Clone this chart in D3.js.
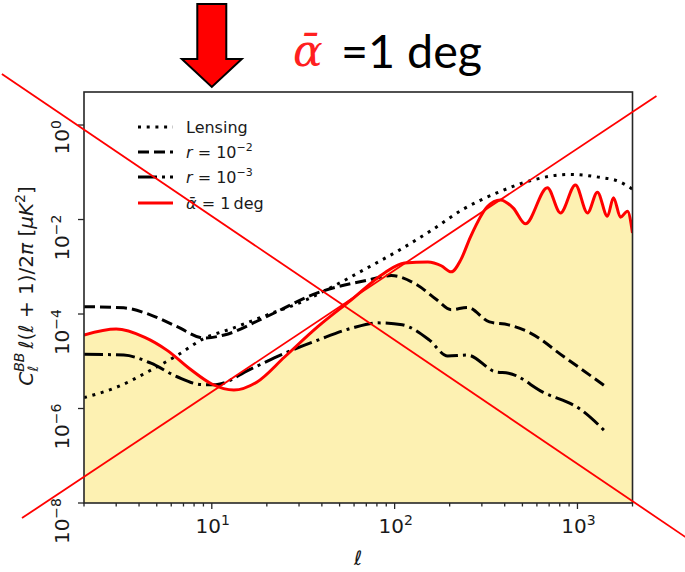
<!DOCTYPE html>
<html>
<head>
<meta charset="utf-8">
<script src="https://cdn.jsdelivr.net/npm/d3@7"></script>
<style>
  body { margin: 0; background: #fff; }
  svg { display: block; }
</style>
</head>
<body>
<svg id="chart" width="685" height="572"></svg>
<script>
// B-mode band powers  C_l^BB l(l+1)/2pi  in muK^2, sampled along multipole l

// gravitational lensing B modes
const lensingEll = [2, 3, 4.65, 6.5, 9, 13, 20, 31, 47, 71, 105, 160, 240, 365, 550, 900, 1300, 1700, 2000];
const lensingBB  = [1.7e-6, 2.8e-6, 6.5e-6, 1.35e-5, 3.0e-5, 5.0e-5, 9.5e-5, 1.8e-4, 4.0e-4, 9.5e-4,
                    2.2e-3, 6.0e-3, 1.7e-2, 3.7e-2, 6.6e-2, 9.0e-2, 7.9e-2, 6.3e-2, 4.4e-2];

// primordial tensor B modes, r = 1e-2
const r2Ell = [2, 3.3, 4.65, 6.46, 9.1, 11.7, 19.3, 37.8, 71, 96, 133, 170, 204, 250, 330, 420, 550, 840, 1450];
const r2BB  = [1.43e-4, 1.35e-4, 9.5e-5, 5.4e-5, 3.1e-5, 3.6e-5, 8.3e-5, 2.8e-4, 5.2e-4, 6.5e-4,
               4.1e-4, 2.0e-4, 1.23e-4, 1.38e-4, 6.8e-5, 5.9e-5, 4.0e-5, 1.26e-5, 2.8e-6];

// primordial tensor B modes, r = 1e-3
const r3Ell = [2, 3.3, 4.65, 6.46, 8.9, 10.5, 16, 25, 38, 58, 81, 110, 155, 195, 250, 360, 420, 650, 1050, 1450];
const r3BB  = [1.41e-5, 1.35e-5, 9.1e-6, 4.7e-6, 3.2e-6, 3.2e-6, 6.6e-6, 1.48e-5, 2.8e-5, 5.0e-5,
               6.5e-5, 5.9e-5, 2.8e-5, 1.29e-5, 1.35e-5, 5.9e-6, 5.6e-6, 2.2e-6, 9.3e-7, 3.0e-7];

// B modes from cosmic birefringence, mean rotation angle 1 deg
const rotEll = [2, 3, 4.3, 5.7, 7.7, 10, 13.2, 17.6, 25, 38, 58, 88, 113, 152, 180, 204, 230, 260, 321, 379,
                446, 519, 685, 807, 975, 1135, 1286, 1458, 1574, 1720, 1878, 2000];
const rotBB  = [3.6e-5, 4.8e-5, 3.2e-5, 1.7e-5, 6.6e-6, 3.3e-6, 2.45e-6, 3.6e-6, 1.23e-5, 5.4e-5, 2.0e-4,
                7.4e-4, 1.2e-3, 1.26e-3, 1.05e-3, 7.8e-4, 1.4e-3, 4.3e-3, 1.86e-2, 2.6e-2,
                1.74e-2, 8.1e-3, 4.7e-2, 1.38e-2, 5.4e-2, 1.38e-2, 3.8e-2, 1.17e-2, 2.9e-2, 1.12e-2, 1.5e-2, 5.2e-3];

// axis ticks
const xMajorTicks = [10, 100, 1000];
const xMajorExp   = ["1", "2", "3"];
const yMajorTicks = [1, 1e-2, 1e-4, 1e-6, 1e-8];
const yMajorExp   = ["0", "\u22122", "\u22124", "\u22126", "\u22128"];

// legend entries (text fragments: italic / superscript flags)
const legendKeys   = ["lensing", "r2", "r3", "rot"];
const legendLabels = [
  [{ t: "Lensing" }],
  [{ t: "r", it: true }, { t: " = 10" }, { t: "\u22122", sup: true }],
  [{ t: "r", it: true }, { t: " = 10" }, { t: "\u22123", sup: true }],
  [{ t: "\u1FB1", it: true }, { t: " = 1\u2009deg" }]
];

// the two struck-through guide lines, end points in (l, D_l)
const strikeLines = [
  [[0.711, 12.05], [3900, 1.9e-9]],
  [[0.916, 4.8e-9], [2705, 4.12]]
];
const arrowTargetEll = 10;

const svg = d3.select("#chart");
const plot = { left: 84, right: 632.5, top: 92, bottom: 503 };
const x = d3.scaleLog().domain([2, 2000]).range([plot.left, plot.right]);
const y = d3.scaleLog().domain([1e-8, 5]).range([plot.bottom, plot.top]);

const FONT = "'DejaVu Sans', sans-serif";
const INK = "#1a1a1a";

svg.append("rect").attr("width", 685).attr("height", 572).attr("fill", "#fff");

svg.append("defs").append("clipPath").attr("id", "plotClip")
  .append("rect")
  .attr("x", plot.left).attr("y", plot.top)
  .attr("width", plot.right - plot.left).attr("height", plot.bottom - plot.top);

const pts = (ells, vals) => ells.map((l, i) => ({ l, v: vals[i] }));
const line = d3.line().x(d => x(d.l)).y(d => y(d.v)).curve(d3.curveMonotoneX);
const area = d3.area().x(d => x(d.l)).y0(plot.bottom).y1(d => y(d.v)).curve(d3.curveMonotoneX);

const body = svg.append("g").attr("clip-path", "url(#plotClip)");

// shaded region below the birefringence spectrum
body.append("path").datum(pts(rotEll, rotBB))
  .attr("d", area).attr("fill", "#fdf1b2");

const styles = {
  lensing: { color: "#000", dash: "3 5.7", width: 3 },
  r2:      { color: "#000", dash: "11 5", width: 3 },
  r3:      { color: "#000", dash: "19 5 3 5", width: 3 },
  rot:     { color: "#ff0000", dash: null, width: 3 }
};
const series = [
  { key: "lensing", data: pts(lensingEll, lensingBB) },
  { key: "r2", data: pts(r2Ell, r2BB) },
  { key: "r3", data: pts(r3Ell, r3BB) },
  { key: "rot", data: pts(rotEll, rotBB) }
];
series.forEach(s => {
  const st = styles[s.key];
  body.append("path").datum(s.data)
    .attr("d", line)
    .attr("fill", "none")
    .attr("stroke", st.color)
    .attr("stroke-width", st.width)
    .attr("stroke-dasharray", st.dash)
    .attr("stroke-linejoin", "round");
});

// frame
svg.append("rect")
  .attr("x", plot.left).attr("y", plot.top)
  .attr("width", plot.right - plot.left).attr("height", plot.bottom - plot.top)
  .attr("fill", "none").attr("stroke", "#262626").attr("stroke-width", 1.6);

// x ticks
const xMinor = x.ticks().filter(v => !xMajorTicks.includes(v));
const axes = svg.append("g").attr("stroke", "#262626").attr("stroke-width", 1.3);
xMinor.forEach(v => {
  axes.append("line").attr("x1", x(v)).attr("x2", x(v))
    .attr("y1", plot.bottom).attr("y2", plot.bottom + 3.5);
});
xMajorTicks.forEach(v => {
  axes.append("line").attr("x1", x(v)).attr("x2", x(v))
    .attr("y1", plot.bottom).attr("y2", plot.bottom + 6);
});
yMajorTicks.forEach(v => {
  axes.append("line").attr("x1", plot.left - 6).attr("x2", plot.left)
    .attr("y1", y(v)).attr("y2", y(v));
});

// power-of-ten labels
function powerLabel(sel, exp, base, supSize, lift) {
  sel.append("tspan").text("10").attr("font-size", base);
  sel.append("tspan").text(exp).attr("font-size", supSize).attr("dy", -lift);
}
xMajorTicks.forEach((v, i) => {
  const t = svg.append("text")
    .attr("x", x(v) + 1).attr("y", plot.bottom + 30)
    .attr("text-anchor", "middle")
    .attr("font-family", FONT).attr("fill", INK);
  powerLabel(t, xMajorExp[i], 20, 14, 8);
});
yMajorTicks.forEach((v, i) => {
  const t = svg.append("text")
    .attr("transform", `translate(69,${y(v) - 5}) rotate(-90)`)
    .attr("text-anchor", "end")
    .attr("font-family", FONT).attr("fill", INK);
  powerLabel(t, yMajorExp[i], 20, 14, 8);
});

// axis titles
svg.append("text")
  .attr("x", (plot.left + plot.right) / 2).attr("y", 565)
  .attr("text-anchor", "middle")
  .attr("font-family", FONT).attr("font-style", "italic")
  .attr("font-size", 20).attr("fill", INK)
  .text("\u2113");

const yl = svg.append("text")
  .attr("transform", "translate(33,286) rotate(-90)")
  .attr("text-anchor", "middle")
  .attr("font-family", FONT).attr("font-size", 20).attr("fill", INK);
yl.append("tspan").text("C").attr("font-style", "italic");
yl.append("tspan").text("BB").attr("font-style", "italic").attr("font-size", 14).attr("dy", -9);
yl.append("tspan").text("\u2113").attr("font-style", "italic").attr("font-size", 14).attr("dx", -19).attr("dy", 14);
yl.append("tspan").text("\u2113").attr("font-style", "italic").attr("dx", 17).attr("dy", -5);
yl.append("tspan").text("(");
yl.append("tspan").text("\u2113").attr("font-style", "italic");
yl.append("tspan").text(" + 1)/2");
yl.append("tspan").text("\u03C0").attr("font-style", "italic");
yl.append("tspan").text(" [");
yl.append("tspan").text("\u03BCK").attr("font-style", "italic");
yl.append("tspan").text("2").attr("font-size", 14).attr("dy", -8);
yl.append("tspan").text("]").attr("dy", 8);

// legend
const legendRowY = [127, 152, 177, 203];
legendKeys.forEach((k, i) => {
  const st = styles[k];
  const yy = legendRowY[i];
  svg.append("line")
    .attr("x1", 138).attr("x2", 173).attr("y1", yy).attr("y2", yy)
    .attr("stroke", st.color).attr("stroke-width", st.width)
    .attr("stroke-dasharray", st.dash);
  const t = svg.append("text")
    .attr("x", 186).attr("y", yy + 6)
    .attr("font-family", FONT).attr("font-size", 16).attr("fill", INK);
  legendLabels[i].forEach(p => {
    const s = t.append("tspan").text(p.t);
    if (p.it) s.attr("font-style", "italic");
    if (p.sup) s.attr("font-size", 11).attr("dy", -7);
  });
});

// struck-through guide lines across the figure
strikeLines.forEach(([a, b]) => {
  svg.append("line")
    .attr("x1", x(a[0])).attr("y1", y(a[1]))
    .attr("x2", x(b[0])).attr("y2", y(b[1]))
    .attr("stroke", "#ff0000").attr("stroke-width", 1.8);
});

// downward arrow marking the reionization bump
const ax = x(arrowTargetEll);
const arrowShape = [
  [ax - 14.5, 4], [ax + 14.5, 4], [ax + 14.5, 59], [ax + 30, 59],
  [ax, 87], [ax - 30, 59], [ax - 14.5, 59]
];
svg.append("polygon")
  .attr("points", arrowShape.map(p => p.join(",")).join(" "))
  .attr("fill", "#ff0000").attr("stroke", "#000").attr("stroke-width", 2)
  .attr("stroke-linejoin", "miter");

// heading
svg.append("text")
  .attr("x", 293).attr("y", 66)
  .attr("font-family", "'DejaVu Serif', serif").attr("font-style", "italic")
  .attr("font-size", 44).attr("fill", "#ff2020")
  .text("\u1FB1");
svg.append("text")
  .attr("x", 341).attr("y", 68)
  .attr("font-family", "Lato, 'Open Sans', sans-serif")
  .attr("font-size", 46).attr("fill", "#000")
  .attr("textLength", 141).attr("lengthAdjust", "spacingAndGlyphs")
  .text("=1 deg");
</script>
</body>
</html>
